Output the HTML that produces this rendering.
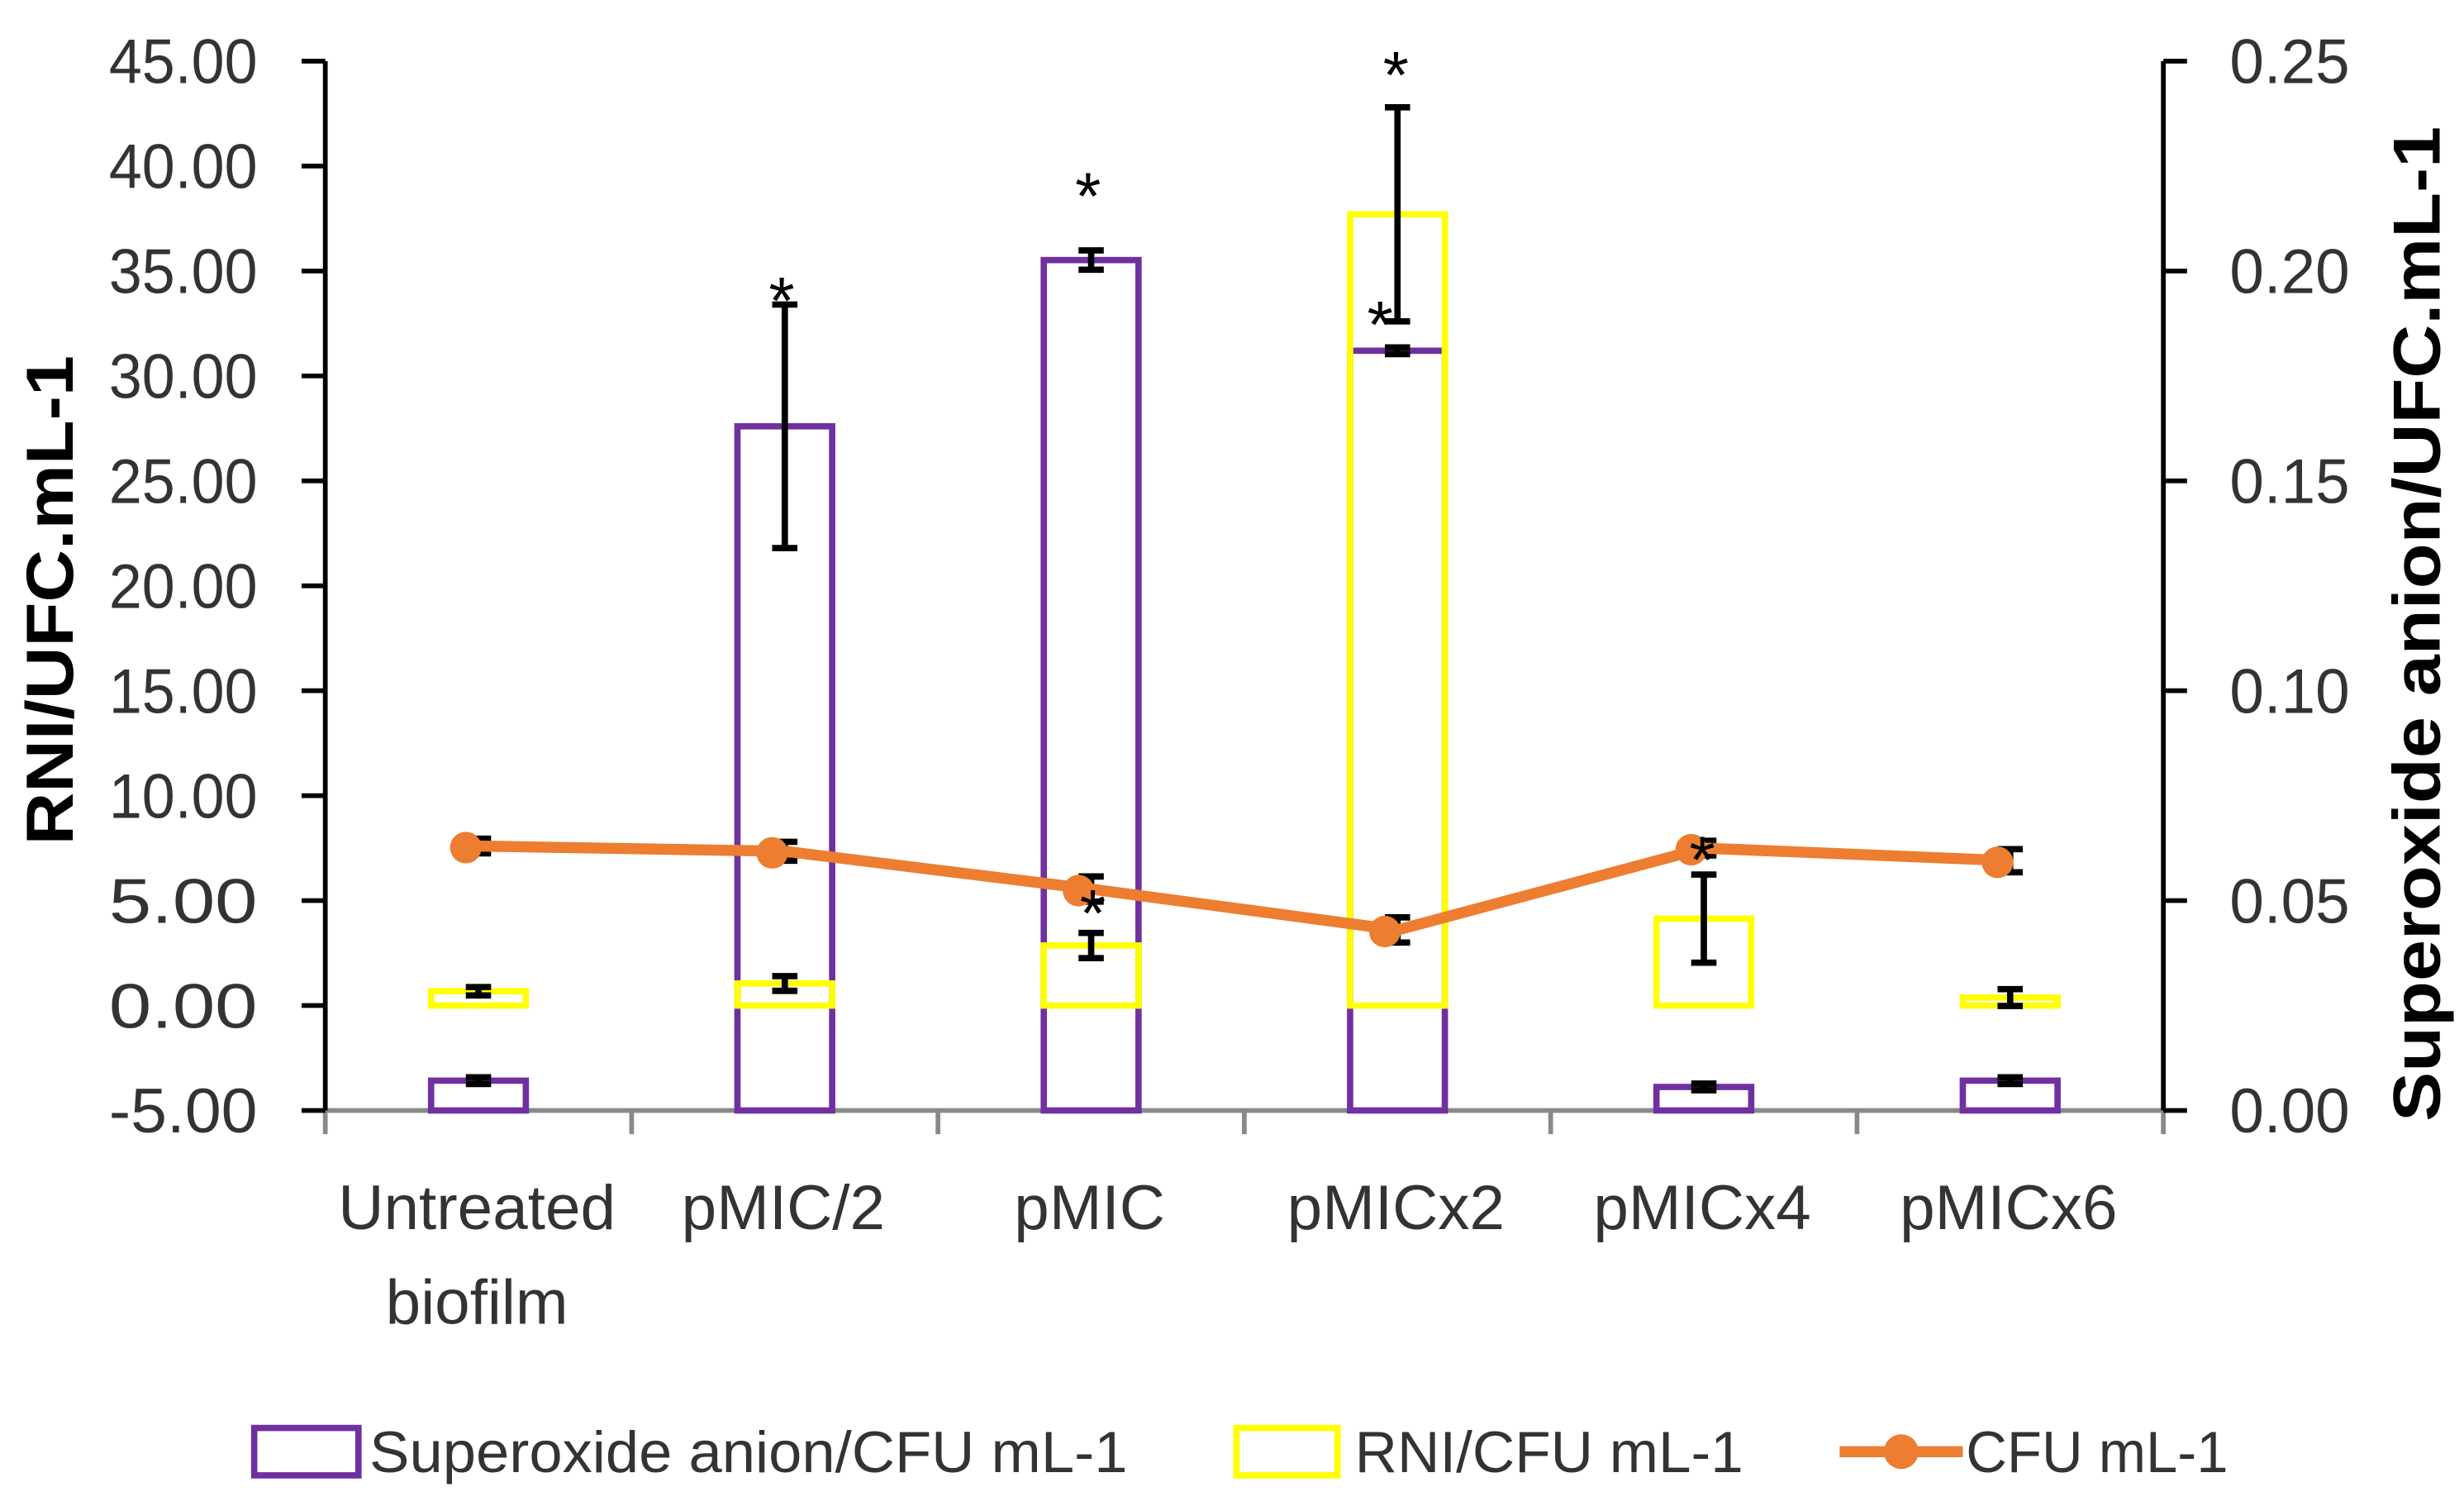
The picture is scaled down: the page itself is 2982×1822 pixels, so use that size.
<!DOCTYPE html>
<html><head><meta charset="utf-8"><style>
html,body{margin:0;padding:0;background:#fff;}
svg{display:block;}
text{font-family:"Liberation Sans",sans-serif;}
</style></head><body>
<svg id="chart" width="2982" height="1822" viewBox="0 0 1560.4 953.4" preserveAspectRatio="none" xmlns="http://www.w3.org/2000/svg">
<g id="plot"></g>
<text transform="translate(46,380) rotate(-90)" text-anchor="middle" font-size="42" font-weight="bold" fill="#000" textLength="310" lengthAdjust="spacingAndGlyphs">RNI/UFC.mL-1</text>
<text transform="translate(1545,395) rotate(-90)" text-anchor="middle" font-size="42" font-weight="bold" fill="#000" textLength="630" lengthAdjust="spacingAndGlyphs">Superoxide anion/UFC.mL-1</text>
<g>
 <g>
  <rect x="161" y="904" width="66" height="30" fill="none" stroke="#7030A0" stroke-width="4"/>
  <text x="234" y="932" font-size="37" fill="#333" textLength="480" lengthAdjust="spacingAndGlyphs">Superoxide anion/CFU mL-1</text>
 </g>
 <g>
  <rect x="783" y="904" width="64" height="30" fill="none" stroke="#FFFF00" stroke-width="4"/>
  <text x="858" y="932" font-size="37" fill="#333" textLength="246" lengthAdjust="spacingAndGlyphs">RNI/CFU mL-1</text>
 </g>
 <g>
  <line x1="1165" y1="919" x2="1243" y2="919" stroke="#ED7D31" stroke-width="7"/>
  <circle cx="1204" cy="919" r="11" fill="#ED7D31"/>
  <text x="1245" y="932" font-size="37" fill="#333" textLength="166" lengthAdjust="spacingAndGlyphs">CFU mL-1</text>
 </g>
</g>
</svg>
<script>
const categories = ["Untreated biofilm","pMIC/2","pMIC","pMICx2","pMICx4","pMICx6"];
const superoxide = [0.0071, 0.163, 0.2026, 0.181, 0.0056, 0.0071];
const superoxideErr = [0.0008, 0.029, 0.0023, 0.0008, 0.0008, 0.0008];
const rni = [0.68, 1.05, 2.86, 37.7, 4.14, 0.38];
const rniErr = [0.2, 0.35, 0.6, 5.1, 2.1, 0.4];
const cfu = [7.6, 7.35, 5.55, 3.6, 7.5, 6.9];
const cfuErr = [0.35, 0.45, 0.6, 0.6, 0.35, 0.55];
const leftTicks = [45,40,35,30,25,20,15,10,5,0,-5];
const rightTicks = [0.25,0.20,0.15,0.10,0.05,0.00];

const NS="http://www.w3.org/2000/svg";
const plot=document.getElementById('plot');
const X0=206, X1=1370, YT=38.7, YB=703;
const yL=v=>YB-(v-(-5))/50*(YB-YT);
const yR=v=>YB-v/0.25*(YB-YT);
const cw=(X1-X0)/categories.length;
const xC=i=>X0+cw*(i+0.5);
const BW=60;
function mk(tag,attrs,parent){const e=document.createElementNS(NS,tag);for(const k in attrs)e.setAttribute(k,attrs[k]);(parent||plot).appendChild(e);return e;}

let ax=mk('line',{x1:X0,y1:YB,x2:X1,y2:YB,stroke:'#898989','stroke-width':3});


for(let i=0;i<=categories.length;i++){
 const t=mk('line',{x1:X0+cw*i,y1:YB,x2:X0+cw*i,y2:YB+15,stroke:'#898989','stroke-width':3});
 
 
}
let la=mk('line',{x1:X0,y1:YT,x2:X0,y2:YB,stroke:'#000','stroke-width':3});


leftTicks.forEach(v=>{
 const y=yL(v);
 const t=mk('line',{x1:X0-15,y1:y,x2:X0,y2:y,stroke:'#000','stroke-width':3});
 
 
 const tx=mk('text',{x:163,y:y+14,'text-anchor':'end','font-size':40,fill:'#333',textLength:94,lengthAdjust:'spacingAndGlyphs'});
 tx.textContent=v.toFixed(2);
 
 
});
let ra=mk('line',{x1:X1,y1:YT,x2:X1,y2:YB,stroke:'#000','stroke-width':3});


rightTicks.forEach(v=>{
 const y=yR(v);
 const t=mk('line',{x1:X1,y1:y,x2:X1+15,y2:y,stroke:'#000','stroke-width':3});
 
 
 const tx=mk('text',{x:1412,y:y+14,'font-size':40,fill:'#333',textLength:76,lengthAdjust:'spacingAndGlyphs'});
 tx.textContent=v.toFixed(2);
 
 
});
categories.forEach((c,i)=>{
 const parts=c==="Untreated biofilm"?["Untreated","biofilm"]:[c];
 parts.forEach((p,j)=>{
  const t=mk('text',{x:xC(i)-1,y:778+j*60,'text-anchor':'middle','font-size':40,fill:'#333'});
  t.textContent=p;
  
  
 });
});
function errbar(x,yc,ytop,ybot){
 const g=mk('g',{stroke:'#000','stroke-width':4});
 
 
 mk('line',{x1:x,y1:ytop,x2:x,y2:ybot},g);
 mk('line',{x1:x-8,y1:ytop,x2:x+8,y2:ytop},g);
 mk('line',{x1:x-8,y1:ybot,x2:x+8,y2:ybot},g);
}
superoxide.forEach((v,i)=>{
 const y=yR(v);
 const r=mk('rect',{x:xC(i)-BW/2,y:y,width:BW,height:YB-y,fill:'none',stroke:'#7030A0','stroke-width':4});
 
 
});
rni.forEach((v,i)=>{
 const y=yL(v);
 const r=mk('rect',{x:xC(i)-BW/2,y:y,width:BW,height:yL(0)-y,fill:'none',stroke:'#FFFF00','stroke-width':4});
 
 
});
superoxide.forEach((v,i)=>errbar(xC(i),yR(v),yR(v+superoxideErr[i]),yR(v-superoxideErr[i])));
rni.forEach((v,i)=>errbar(xC(i),yL(v),yL(v+rniErr[i]),yL(v-rniErr[i])));
cfu.forEach((v,i)=>errbar(xC(i),yL(v),yL(v+cfuErr[i]),yL(v-cfuErr[i])));
const pts=cfu.map((v,i)=>xC(i)+','+yL(v)).join(' ');
const pl=mk('polyline',{points:pts,fill:'none',stroke:'#ED7D31','stroke-width':7,'stroke-linejoin':'round'});


cfu.forEach((v,i)=>{
 const c=mk('circle',{cx:xC(i)-8,cy:yL(v)+1,r:10,fill:'#ED7D31'});
 
 
});
function star(x,y){
 const t=mk('text',{x:x,y:y,'text-anchor':'middle','font-size':42,fill:'#000'});
 t.textContent='*';
 
 
}
star(xC(1)-2, yR(superoxide[1]+superoxideErr[1])+12);
star(xC(2)-2, yR(superoxide[2]+superoxideErr[2])-20);
star(xC(3)-1, yL(rni[3]+rniErr[3])-6);
star(xC(3)-11, yR(superoxide[3])-2);
star(xC(2)+1, yL(rni[2]+rniErr[2])+2);
star(xC(4)-1, yL(cfu[4])+22);
</script>
</body></html>
